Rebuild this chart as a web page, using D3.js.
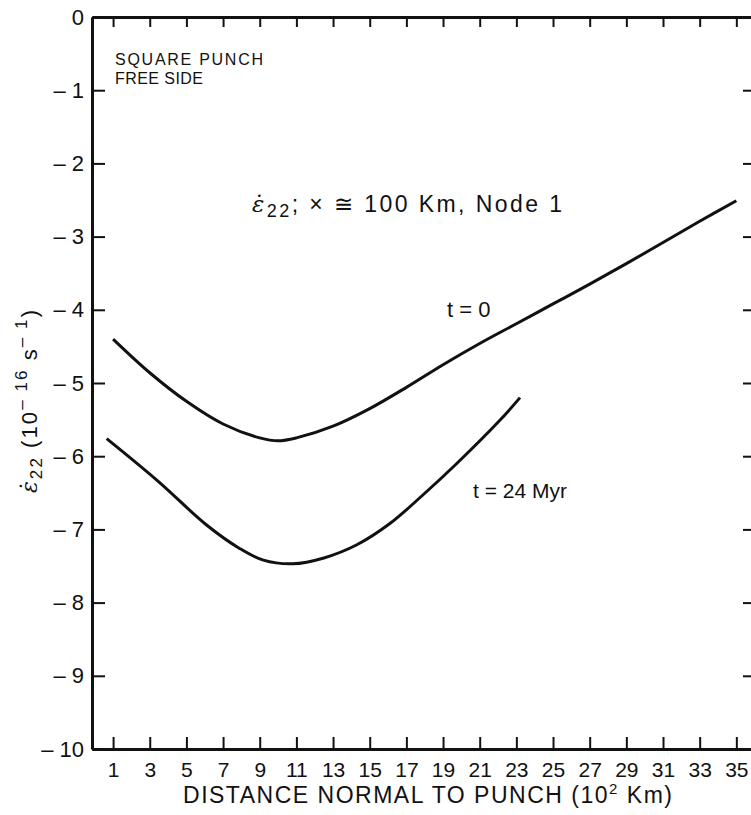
<!DOCTYPE html>
<html lang="en">
<head>
<meta charset="utf-8">
<script src="https://d3js.org/d3.v7.min.js"></script>
<style>
  body { margin: 0; background: #fff; }
  text { font-family: "Liberation Sans", Arial, Helvetica, sans-serif; fill: #111; }
  .axis path, .axis line { stroke: #111; }
  .axis text { font-size: 21px; font-family: "Liberation Sans", Arial, sans-serif; fill: #111; }
  .curve { fill: none; stroke: #111; stroke-width: 3px; }
</style>
</head>
<body>
<svg id="chart" width="751" height="815"></svg>
<script>
// distance normal to punch (10^2 km) and strain rate (10^-16 s^-1)
const xT0   = [1, 3, 5, 7, 9, 10, 11, 13, 15, 17, 19, 21, 23, 25, 27, 29, 31, 33, 35];
const yT0   = [-4.40, -4.86, -5.25, -5.56, -5.75, -5.79, -5.75, -5.59, -5.35, -5.06,
               -4.75, -4.46, -4.19, -3.92, -3.65, -3.37, -3.08, -2.79, -2.51];
const xT24  = [0.65, 3.4, 6.1, 7.9, 9.2, 10.8, 12.5, 14.3, 16.1, 17.9, 19.75, 22.1, 23.2];
const yT24  = [-5.76, -6.33, -6.94, -7.26, -7.42, -7.47, -7.39, -7.21, -6.92, -6.53, -6.10, -5.51, -5.20];
const xTicks = d3.range(1, 36, 2);
const yTicks = d3.range(0, -11, -1);

const svg = d3.select("#chart");
svg.append("rect").attr("width", 751).attr("height", 815).attr("fill", "#fff");

const x = d3.scaleLinear().domain([-0.15, 35.8]).range([92, 751]);
const y = d3.scaleLinear().domain([-10, 0]).range([749, 17]);

// top axis (ticks only, pointing down)
const topAxis = svg.append("g").attr("class", "axis")
  .attr("transform", `translate(0,${y(0)})`)
  .call(d3.axisBottom(x).tickValues(xTicks).tickSizeInner(10).tickSizeOuter(0).tickFormat(""));
topAxis.select(".domain").attr("stroke-width", 3);
topAxis.selectAll(".tick line").attr("stroke-width", 2);

// right side ticks, no line
const rightAxis = svg.append("g").attr("class", "axis")
  .attr("transform", `translate(751,0)`)
  .call(d3.axisLeft(y).tickValues(d3.range(-1, -10, -1)).tickSizeInner(8).tickSizeOuter(0).tickFormat(""));
rightAxis.select(".domain").remove();
rightAxis.selectAll(".tick line").attr("stroke-width", 2);

// bottom axis, ticks pointing up
const bottomAxis = svg.append("g").attr("class", "axis")
  .attr("transform", `translate(0,${y(-10)})`)
  .call(d3.axisBottom(x).tickValues(xTicks).tickSizeInner(-12).tickSizeOuter(0).tickPadding(13));
bottomAxis.select(".domain").attr("stroke-width", 3);
bottomAxis.selectAll(".tick line").attr("stroke-width", 2);

// left axis, ticks pointing right
const leftAxis = svg.append("g").attr("class", "axis")
  .attr("transform", `translate(${x(-0.15)},0)`)
  .call(d3.axisLeft(y).tickValues(yTicks).tickSizeInner(-13).tickSizeOuter(0).tickPadding(8)
    .tickFormat(d => d === 0 ? "0" : "\u2013 " + Math.abs(d)));
leftAxis.select(".domain").attr("stroke-width", 3);
leftAxis.selectAll(".tick line").attr("stroke-width", 2);
leftAxis.selectAll(".tick text").attr("x", -8).style("font-size", "22px");

// curves
const line = d3.line().x(d => x(d[0])).y(d => y(d[1])).curve(d3.curveCatmullRom.alpha(0.5));
svg.append("path").attr("class", "curve").attr("d", line(d3.zip(xT0, yT0)));
svg.append("path").attr("class", "curve").attr("d", line(d3.zip(xT24, yT24)));

// labels
svg.append("text").attr("x", 115).attr("y", 65).style("font-size", "16px")
  .attr("textLength", 148).attr("lengthAdjust", "spacing").text("SQUARE PUNCH");
svg.append("text").attr("x", 115).attr("y", 84).style("font-size", "16px")
  .attr("textLength", 88).attr("lengthAdjust", "spacing").text("FREE SIDE");

const ann = svg.append("text").attr("x", 252).attr("y", 212).style("font-size", "23px")
  .attr("textLength", 310).attr("lengthAdjust", "spacing");
ann.append("tspan").style("font-family", "DejaVu Serif").style("font-style", "italic").text("\u03B5\u0307");
ann.append("tspan").attr("dy", 5).style("font-size", "18px").text("22");
ann.append("tspan").attr("dy", -5).text(";  \u00D7  \u2245  100 Km, Node 1");

svg.append("text").attr("x", 447).attr("y", 317).style("font-size", "22px").text("t = 0");
svg.append("text").attr("x", 473).attr("y", 498).style("font-size", "21px").text("t = 24  Myr");

// axis titles
const xt = svg.append("text").attr("x", 183).attr("y", 803)
  .style("font-size", "23px").attr("textLength", 489).attr("lengthAdjust", "spacing");
xt.append("tspan").text("DISTANCE NORMAL TO PUNCH (10");
xt.append("tspan").attr("dy", -9).style("font-size", "15px").text("2");
xt.append("tspan").attr("dy", 9).text(" Km)");

const yt = svg.append("text")
  .attr("transform", "translate(37,493) rotate(-90)").style("font-size", "22px")
  .attr("textLength", 183).attr("lengthAdjust", "spacing");
yt.append("tspan").style("font-family", "DejaVu Serif").style("font-style", "italic").text("\u03B5\u0307");
yt.append("tspan").attr("dy", 5).style("font-size", "17px").text("22");
yt.append("tspan").attr("dy", -5).text(" (10");
yt.append("tspan").attr("dy", -10).style("font-size", "17px").text("\u2013 16");
yt.append("tspan").attr("dy", 10).text(" s");
yt.append("tspan").attr("dy", -10).style("font-size", "17px").text("\u2013 1");
yt.append("tspan").attr("dy", 10).text(")");
</script>
</body>
</html>
